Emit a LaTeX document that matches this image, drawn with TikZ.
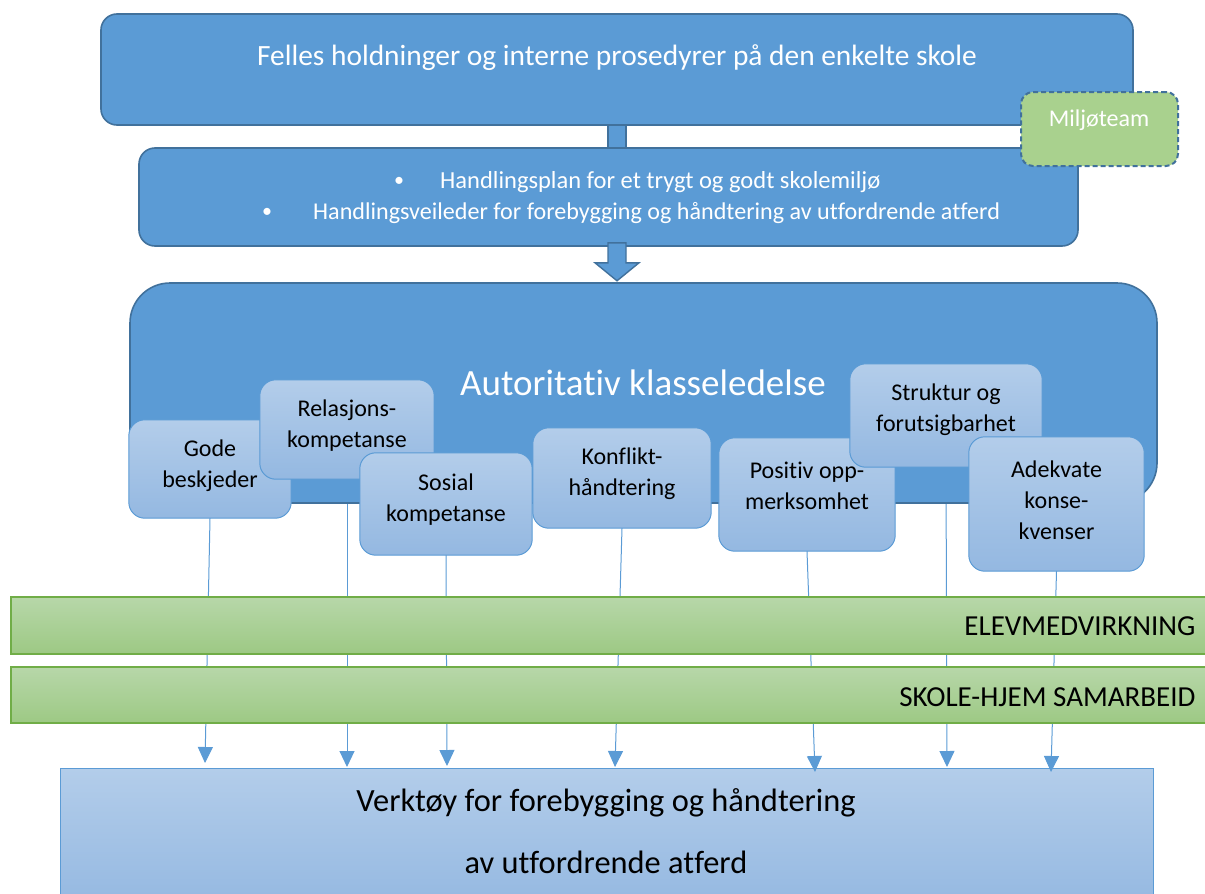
\documentclass[tikz,border=0pt]{standalone}
\usepackage{fontspec}
\setmainfont[Ligatures=NoCommon]{Carlito}
\usetikzlibrary{arrows.meta,calc}
\definecolor{mainblue}{HTML}{5B9BD5}
\definecolor{darkblue}{HTML}{41719C}
\definecolor{ltop}{HTML}{B3CDEA}
\definecolor{lbot}{HTML}{94B8E1}
\definecolor{gtop}{HTML}{B7D7A9}
\definecolor{gbot}{HTML}{9DC984}
\definecolor{gborder}{HTML}{70AD47}
\definecolor{miljo}{HTML}{A9D18E}
\tikzset{
  bigbox/.style={draw=darkblue, line width=1.6pt, fill=mainblue, rounded corners=#1, inner sep=0pt},
  lightbox/.style={draw=mainblue, line width=1pt, top color=ltop, bottom color=lbot, rounded corners=16pt, inner sep=0pt},
  greenbar/.style={draw=gborder, line width=1.2pt, top color=gtop, bottom color=gbot, inner sep=0pt},
  smalltxt/.style={font=\fontsize{24}{31}\selectfont, align=center, text=black},
  conn/.style={draw=mainblue, line width=1pt, -{Triangle[length=16pt,width=15pt]}},
}
\begin{document}
\begin{tikzpicture}[x=1pt,y=-1pt]
\useasboundingbox (0,0) rectangle (1205,894);
% connector bar between top and second box
\draw[draw=darkblue, line width=1.4pt, fill=mainblue] (608,118) rectangle (626,152);
% top box
\node[bigbox=16pt, minimum width=1032pt, minimum height=111pt] (top) at (617,69.5) {};
\node[text=white, font=\fontsize{29.4}{32}\selectfont] (toptxt) at (617,58) {Felles holdninger og interne prosedyrer på den enkelte skole};
% second box
\node[bigbox=16pt, minimum width=939pt, minimum height=98pt] (sec) at (608.5,197) {};
\node[text=white, font=\fontsize{20}{24}\selectfont, anchor=west, inner sep=0pt] (b1) at (394,182) {•};
\node[text=white, font=\fontsize{24.5}{28}\selectfont, anchor=west, inner sep=0pt] (l1) at (440,182) {Handlingsplan for et trygt og godt skolemiljø};
\node[text=white, font=\fontsize{20}{24}\selectfont, anchor=west, inner sep=0pt] (b2) at (262,213) {•};
\node[text=white, font=\fontsize{24.1}{28}\selectfont, anchor=west, inner sep=0pt] (l2) at (313,213) {Handlingsveileder for forebygging og håndtering av utfordrende atferd};
% Miljoteam
\node[draw=darkblue, line width=2pt, dash pattern=on 5pt off 3pt, fill=miljo, rounded corners=12pt, minimum width=157pt, minimum height=74pt, inner sep=0pt] (mil) at (1099.5,129) {};
\node[text=white, font=\fontsize{24}{28}\selectfont] (miltxt) at (1099,120) {Miljøteam};
% block arrow down
\draw[draw=darkblue, line width=1.4pt, fill=mainblue]
  ($(sec.south)+(8.5,-4)$) ++(-9,0) -- ++(0,20) -- ++(-13,0) -- ($(sec.south)+(8.5,34)$) -- ++(22,-18) -- ++(-13,0) -- ++(0,-20) -- cycle;
% bottom box
\node[draw=mainblue, line width=1pt, top color=ltop, bottom color=lbot, inner sep=0pt, minimum width=1093pt, minimum height=140pt] (bot) at (606.5,838) {};
\node[smalltxt, font=\fontsize{32.4}{62}\selectfont] (bottxt) at (606,831) {Verktøy for forebygging og håndtering\\av utfordrende atferd};
% tips of connectors
\coordinate (t1) at (205,763);
\coordinate (t2) at (347,767);
\coordinate (t3) at (447,766);
\coordinate (t4) at (615,767);
\coordinate (t5) at (815,772);
\coordinate (t6) at (947,767);
\coordinate (t7) at (1051,772);
\path (210,469) node[minimum width=162pt, minimum height=98pt, inner sep=0pt] (gode) {}
      (347,429.5) node[minimum width=174pt, minimum height=99pt, inner sep=0pt] (rel) {}
      (446,504) node[minimum width=172pt, minimum height=102pt, inner sep=0pt] (sos) {}
      (622,478) node[minimum width=178pt, minimum height=100pt, inner sep=0pt] (kon) {}
      (807,494.5) node[minimum width=176pt, minimum height=113pt, inner sep=0pt] (pos) {}
      (946,415.5) node[minimum width=192pt, minimum height=103pt, inner sep=0pt] (str) {}
      (1056.5,504) node[minimum width=175pt, minimum height=134pt, inner sep=0pt] (ade) {};
% connectors
\draw[conn] (gode.south) -- (t1);
\draw[conn] (rel.south) -- (t2);
\draw[conn] (sos.south) -- (t3);
\draw[conn] (kon.south) -- (t4);
\draw[conn] (pos.south) -- (t5);
\draw[conn] (str.south) -- (t6);
\draw[conn] (ade.south) -- (t7);
% big box
\node[bigbox=40pt, minimum width=1027pt, minimum height=220pt] (big) at (643.5,393) {};
\node[text=white, font=\fontsize{37}{40}\selectfont] (bigtxt) at (643,383) {Autoritativ klasseledelse};
% small boxes drawn
\path[lightbox] (gode.north west) rectangle (gode.south east);
\node[smalltxt] (godetxt) at (210,466) {Gode\\beskjeder};
\path[lightbox] (rel.north west) rectangle (rel.south east);
\node[smalltxt] (reltxt) at (347,425.5) {Relasjons-\\kompetanse};
\path[lightbox] (sos.north west) rectangle (sos.south east);
\node[smalltxt] (sostxt) at (446,500) {Sosial\\kompetanse};
\path[lightbox] (kon.north west) rectangle (kon.south east);
\node[smalltxt] (kontxt) at (622,473.5) {Konflikt-\\håndtering};
\path[lightbox] (pos.north west) rectangle (pos.south east);
\node[smalltxt] (postxt) at (807,486) {Positiv opp-\\merksomhet};
\path[lightbox] (str.north west) rectangle (str.south east);
\node[smalltxt] (strtxt) at (946,410) {Struktur og\\forutsigbarhet};
\path[lightbox] (ade.north west) rectangle (ade.south east);
\node[smalltxt] (adetxt) at (1056.5,500) {Adekvate\\konse-\\kvenser};
% green bars
\node[greenbar, minimum width=1210pt, minimum height=57pt] (elev) at (616,625.5) {};
\node[font=\fontsize{29}{32}\selectfont, text=black, anchor=east] (elevtxt) at (1199,626) {ELEVMEDVIRKNING};
\node[greenbar, minimum width=1210pt, minimum height=56pt] (skole) at (616,695) {};
\node[font=\fontsize{29}{32}\selectfont, text=black, anchor=east] (skoletxt) at (1199,697) {SKOLE-HJEM SAMARBEID};
\end{tikzpicture}
\end{document}
